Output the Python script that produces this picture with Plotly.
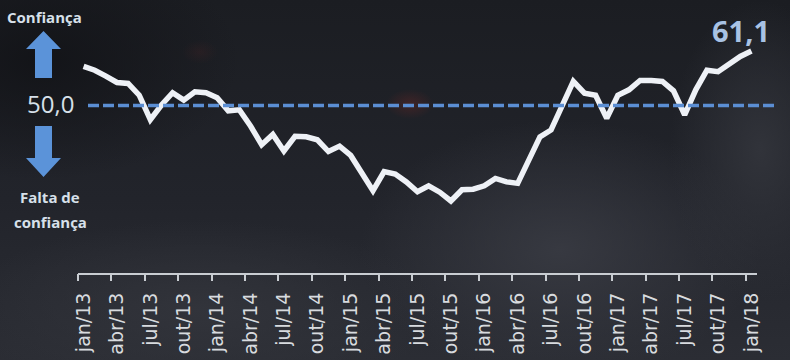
import base64
import plotly.graph_objects as go

# ---------------- data ----------------
categories = [
    "jan/13", "fev/13", "mar/13", "abr/13", "mai/13", "jun/13", "jul/13", "ago/13", "set/13", "out/13", "nov/13", "dez/13",
    "jan/14", "fev/14", "mar/14", "abr/14", "mai/14", "jun/14", "jul/14", "ago/14", "set/14", "out/14", "nov/14", "dez/14",
    "jan/15", "fev/15", "mar/15", "abr/15", "mai/15", "jun/15", "jul/15", "ago/15", "set/15", "out/15", "nov/15", "dez/15",
    "jan/16", "fev/16", "mar/16", "abr/16", "mai/16", "jun/16", "jul/16", "ago/16", "set/16", "out/16", "nov/16", "dez/16",
    "jan/17", "fev/17", "mar/17", "abr/17", "mai/17", "jun/17", "jul/17", "ago/17", "set/17", "out/17", "nov/17", "dez/17",
    "jan/18",
]
values = [
    58.0, 57.2, 56.0, 54.7, 54.5, 52.1, 47.1, 50.1, 52.6, 51.1, 52.8, 52.6,
    51.6, 48.9, 49.1, 45.8, 42.0, 44.1, 40.7, 43.7, 43.6, 43.0, 40.6, 41.7,
    39.8, 36.2, 32.6, 36.5, 36.0, 34.4, 32.4, 33.6, 32.3, 30.5, 32.8, 32.9,
    33.6, 35.1, 34.4, 34.1, 38.9, 43.6, 45.0, 50.1, 54.9, 52.5, 52.1, 47.4,
    52.1, 53.2, 55.1, 55.1, 54.9, 53.0, 48.1, 53.2, 57.2, 56.9, 58.5, 60.0,
    61.1,
]
tick_labels = categories[::3]
reference_level = 50.0
last_label = "61,1"
ref_label = "50,0"

# ---------------- layout geometry ----------------
W, H = 790, 360
ML, MR, MT, MB = 78, 33, 20, 87
PW, PH = W - ML - MR, H - MT - MB
Y_RANGE = [15.8, 67.45]
X_RANGE = [-0.5, len(categories) - 0.5]


def px(x):
    return (x - ML) / PW


def py(y):
    return (H - MB - y) / PH


def ypaper(v):
    return (v - Y_RANGE[0]) / (Y_RANGE[1] - Y_RANGE[0])


# background (soft blurred photo look)
svg = f"""<svg xmlns='http://www.w3.org/2000/svg' width='{W}' height='{H}'>
<defs>
<linearGradient id='g' x1='0' y1='0' x2='0' y2='1'>
<stop offset='0' stop-color='#1b1d22'/><stop offset='0.55' stop-color='#22242b'/><stop offset='1' stop-color='#2b2d34'/>
</linearGradient>
<radialGradient id='b1'><stop offset='0' stop-color='#393b43' stop-opacity='0.9'/><stop offset='1' stop-color='#393b43' stop-opacity='0'/></radialGradient>
<radialGradient id='b2'><stop offset='0' stop-color='#33353c' stop-opacity='0.9'/><stop offset='1' stop-color='#33353c' stop-opacity='0'/></radialGradient>
<radialGradient id='r1'><stop offset='0' stop-color='#5a2626' stop-opacity='0.55'/><stop offset='1' stop-color='#5a2626' stop-opacity='0'/></radialGradient>
<radialGradient id='d1'><stop offset='0' stop-color='#121317' stop-opacity='0.9'/><stop offset='1' stop-color='#121317' stop-opacity='0'/></radialGradient>
</defs>
<rect width='{W}' height='{H}' fill='url(#g)'/>
<ellipse cx='40' cy='60' rx='200' ry='120' fill='url(#d1)'/>
<ellipse cx='560' cy='250' rx='200' ry='130' fill='url(#b1)'/>
<ellipse cx='200' cy='310' rx='240' ry='90' fill='url(#b2)'/>
<ellipse cx='760' cy='150' rx='90' ry='150' fill='url(#b2)'/>
<ellipse cx='410' cy='104' rx='24' ry='15' fill='url(#r1)'/>
<ellipse cx='200' cy='52' rx='18' ry='12' fill='url(#r1)' opacity='0.35'/>
</svg>"""
bg_uri = "data:image/svg+xml;base64," + base64.b64encode(svg.encode()).decode()

fig = go.Figure()

fig.add_trace(go.Scatter(
    x=categories, y=values, mode="lines",
    line=dict(color="#eef1f6", width=5.5, shape="linear"),
    hoverinfo="skip", showlegend=False,
))

# invisible trace to activate the tick-mark axis
fig.add_trace(go.Scatter(
    x=[X_RANGE[0]], y=[values[0]], xaxis="x2", mode="markers",
    marker=dict(opacity=0), hoverinfo="skip", showlegend=False,
))

shapes = [
    # reference dashed line at 50
    dict(type="line", xref="paper", yref="paper",
         x0=px(88), x1=px(777), y0=ypaper(reference_level), y1=ypaper(reference_level),
         line=dict(color="#5b8ed3", width=3.5, dash="11px,4px"), layer="above"),
    # up arrow
    dict(type="path", xref="paper", yref="paper",
         path=(f"M {px(43.5)} {py(31)} L {px(61)} {py(49)} L {px(52)} {py(49)} L {px(52)} {py(78)} "
               f"L {px(35)} {py(78)} L {px(35)} {py(49)} L {px(26)} {py(49)} Z"),
         fillcolor="#5b93d9", line=dict(width=0)),
    # down arrow
    dict(type="path", xref="paper", yref="paper",
         path=(f"M {px(43.5)} {py(177)} L {px(61)} {py(158)} L {px(52)} {py(158)} L {px(52)} {py(126)} "
               f"L {px(35)} {py(126)} L {px(35)} {py(158)} L {px(26)} {py(158)} Z"),
         fillcolor="#5b93d9", line=dict(width=0)),
]

ann_font = dict(family="Open Sans", color="#d7e0ea")
annotations = [
    dict(text="<b>Confiança</b>", x=px(44), y=py(17), font=dict(size=15, **ann_font)),
    dict(text=ref_label, x=px(50), y=py(103), font=dict(size=24, **ann_font)),
    dict(text="<b>Falta de</b>", x=px(50), y=py(197), font=dict(size=15, **ann_font)),
    dict(text="<b>confiança</b>", x=px(50), y=py(222), font=dict(size=15, **ann_font)),
    dict(text=f"<b>{last_label}</b>", x=px(741), y=py(31),
         font=dict(size=29, family="Open Sans", color="#a8c2e4")),
]
for a in annotations:
    a.update(xref="paper", yref="paper", showarrow=False, xanchor="center", yanchor="middle")

fig.update_layout(
    width=W, height=H,
    margin=dict(l=ML, r=MR, t=MT, b=MB, autoexpand=False),
    paper_bgcolor="#22242a", plot_bgcolor="rgba(0,0,0,0)",
    images=[dict(source=bg_uri, xref="paper", yref="paper",
                 x=px(0), y=py(0), sizex=W / PW, sizey=H / PH,
                 xanchor="left", yanchor="top", sizing="stretch", layer="below")],
    xaxis=dict(
        type="category", range=X_RANGE, tickmode="array", tickvals=tick_labels, ticktext=tick_labels,
        tickangle=-90, ticks="", showgrid=False, zeroline=False, automargin=False,
        showline=True, linecolor="#c9cdd2", linewidth=2,
        tickfont=dict(family="DejaVu Sans", size=19, color="#d8dbdf"),
        ticklabelstandoff=10,
    ),
    xaxis2=dict(
        overlaying="x", anchor="y", side="bottom", range=X_RANGE, automargin=False,
        tickmode="array", tickvals=[i - 0.5 for i in range(0, len(categories), 3)],
        ticks="outside", ticklen=7, tickwidth=2, tickcolor="#c9cdd2",
        showticklabels=False, showgrid=False, zeroline=False, showline=False,
    ),
    yaxis=dict(range=Y_RANGE, visible=False, showgrid=False, zeroline=False, automargin=False),
    shapes=shapes,
    annotations=annotations,
    showlegend=False,
)

fig.write_html("out.html")
